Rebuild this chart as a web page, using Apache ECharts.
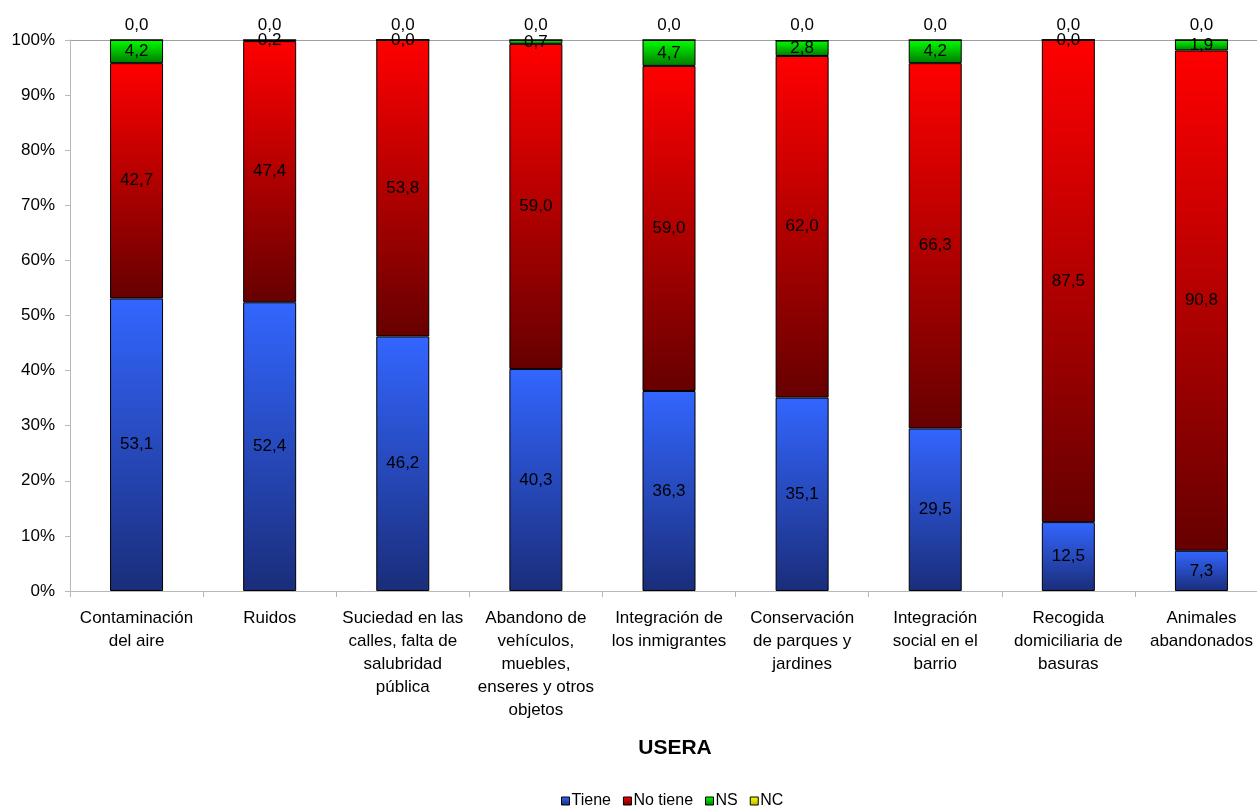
<!DOCTYPE html>
<html>
<head>
<meta charset="utf-8">
<script src="https://cdn.jsdelivr.net/npm/echarts@6/dist/echarts.min.js"></script>
<style>
html,body{margin:0;padding:0;background:#fff;}
#c{width:1257px;height:806px;}
</style>
</head>
<body>
<div id="c"></div>
<script>
const categories = [
  "Contaminación\ndel aire",
  "Ruidos",
  "Suciedad en las\ncalles, falta de\nsalubridad\npública",
  "Abandono de\nvehículos,\nmuebles,\nenseres y otros\nobjetos",
  "Integración de\nlos inmigrantes",
  "Conservación\nde parques y\njardines",
  "Integración\nsocial en el\nbarrio",
  "Recogida\ndomiciliaria de\nbasuras",
  "Animales\nabandonados"
];
const tiene   = [53.1, 52.4, 46.2, 40.3, 36.3, 35.1, 29.5, 12.5, 7.3];
const noTiene = [42.7, 47.4, 53.8, 59.0, 59.0, 62.0, 66.3, 87.5, 90.8];
const ns      = [4.2, 0.2, 0.0, 0.7, 4.7, 2.8, 4.2, 0.0, 1.9];
const nc      = [0.0, 0.0, 0.0, 0.0, 0.0, 0.0, 0.0, 0.0, 0.0];
const seriesNames = ["Tiene", "No tiene", "NS", "NC"];
const yTicks = [0, 10, 20, 30, 40, 50, 60, 70, 80, 90, 100];

const FONT = "Liberation Sans";
const fmt = p => p.value.toFixed(1).replace('.', ',');
const grad = (top, bottom) => new echarts.graphic.LinearGradient(0, 0, 0, 1, [
  {offset: 0, color: top}, {offset: 1, color: bottom}
]);

function mk(name, data, top, bottom, legendColor, labelPos) {
  return {
    name: name,
    type: 'bar',
    stack: 'total',
    barWidth: 53,
    data: data,
    color: legendColor,
    itemStyle: {color: grad(top, bottom), borderColor: '#000', borderWidth: 1},
    label: {show: true, position: labelPos, formatter: fmt, color: '#000',
            fontFamily: FONT, fontSize: 17, distance: 6},
    emphasis: {disabled: true}
  };
}

const chart = echarts.init(document.getElementById('c'));
chart.setOption({
  animation: false,
  backgroundColor: '#fff',
  grid: {left: 70, top: 40, width: 1198, bottom: 215, containLabel: false, outerBoundsMode: 'none'},
  title: {text: 'USERA', left: 670, top: 733, textAlign: 'center',
          textStyle: {fontFamily: FONT, fontSize: 21, fontWeight: 'bold', color: '#000'}},
  legend: {
    data: seriesNames, left: 556, top: 788, icon: 'rect', itemWidth: 8, itemHeight: 8,
    itemGap: 12,
    itemStyle: {borderColor: '#000', borderWidth: 1},
    textStyle: {fontFamily: FONT, fontSize: 16, color: '#000', padding: [0, 0, 0, -3]}
  },
  xAxis: {
    type: 'category', data: categories,
    axisLine: {lineStyle: {color: '#b8b8b8', width: 1}},
    axisTick: {show: true, length: 6, lineStyle: {color: '#b8b8b8'}},
    axisLabel: {interval: 0, margin: 16, fontFamily: FONT, fontSize: 17, color: '#000',
                lineHeight: 23, align: 'center'}
  },
  yAxis: {
    type: 'value', min: 0, max: 100, interval: 10,
    axisLine: {show: true, lineStyle: {color: '#b8b8b8', width: 1}},
    axisTick: {show: true, length: 5, lineStyle: {color: '#b8b8b8'}},
    splitLine: {show: true, lineStyle: {color: yTicks.map(v => v === 100 ? '#a0a0a0' : 'rgba(0,0,0,0)'), width: 1}},
    axisLabel: {formatter: v => v + '%', margin: 15, fontFamily: FONT, fontSize: 17, color: '#000'}
  },
  series: [
    mk(seriesNames[0], tiene, '#3366ff', '#1a2d7a', '#3366ff', 'inside'),
    mk(seriesNames[1], noTiene, '#ff0000', '#660000', '#ff0000', 'inside'),
    mk(seriesNames[2], ns, '#00ff00', '#007a00', '#00dd00', 'inside'),
    mk(seriesNames[3], nc, '#ffff00', '#bbbb00', '#ffff00', 'top')
  ]
});
</script>
</body>
</html>
